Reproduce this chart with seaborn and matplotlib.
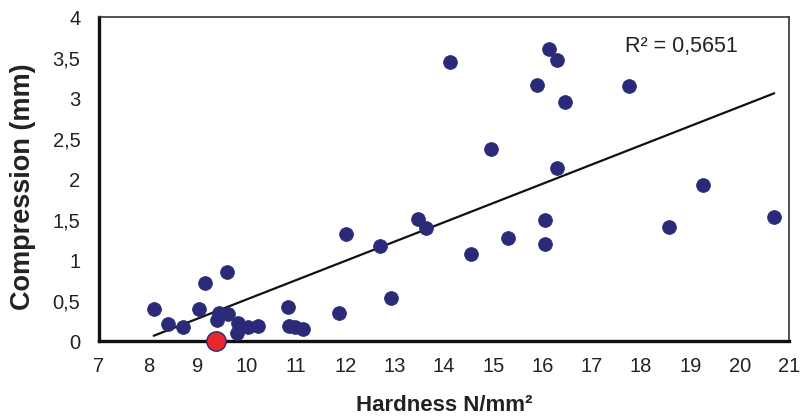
import matplotlib
matplotlib.use("Agg")
import matplotlib.pyplot as plt
import seaborn as sns
import pandas as pd
import numpy as np

hardness = [8.11, 8.41, 8.70, 9.03, 9.15, 9.60, 9.43, 9.62, 9.40, 9.82, 9.80,
            10.02, 10.22, 10.83, 10.86, 10.98, 11.13, 11.86, 12.01, 12.70,
            12.93, 13.48, 13.63, 14.12, 14.55, 14.95, 15.30, 15.88, 16.05,
            16.05, 16.14, 16.30, 16.30, 16.45, 17.76, 18.56, 19.26, 20.70]
compression = [0.395, 0.21, 0.17, 0.395, 0.71, 0.85, 0.34, 0.33, 0.26, 0.22, 0.095,
               0.17, 0.18, 0.42, 0.18, 0.17, 0.145, 0.34, 1.32, 1.17,
               0.535, 1.51, 1.40, 3.45, 1.08, 2.37, 1.27, 3.16, 1.49,
               1.20, 3.61, 3.47, 2.13, 2.95, 3.15, 1.41, 1.93, 1.53]
highlight_x = [9.38]
highlight_y = [0.0]
r2_text = "R² = 0,5651"
x_ticks = list(range(7, 22))
y_ticks = [0, 0.5, 1, 1.5, 2, 2.5, 3, 3.5, 4]
y_tick_labels = ["0", "0,5", "1", "1,5", "2", "2,5", "3", "3,5", "4"]

df = pd.DataFrame({"Hardness": hardness, "Compression": compression})
hl = pd.DataFrame({"Hardness": highlight_x, "Compression": highlight_y})

sns.set_style("white")
plt.rcParams["font.family"] = ["Liberation Sans", "DejaVu Sans"]

fig = plt.figure(figsize=(8.01, 4.19), dpi=100)
ax = fig.add_axes([99/801, 1-341/419, 690/801, 324/419])

navy = "#2B2A78"
sns.regplot(data=df, x="Hardness", y="Compression", ax=ax, ci=None,
            scatter=False, line_kws=dict(color="#111111", lw=1.6))
sns.scatterplot(data=df, x="Hardness", y="Compression", ax=ax, color=navy,
                s=100, edgecolor=navy, linewidth=0.5, zorder=3)
sns.scatterplot(data=hl, x="Hardness", y="Compression", ax=ax, color="#E8282A",
                s=195, edgecolor=navy, linewidth=1.0, zorder=4, clip_on=False)

ax.set_xlim(7, 21)
ax.set_ylim(0, 4)
ax.set_xticks(x_ticks)
ax.set_xticklabels([str(v) for v in x_ticks])
ax.set_yticks(y_ticks)
ax.set_yticklabels(y_tick_labels)

ax.tick_params(axis="both", direction="out", length=4.5, width=1.5,
               labelsize=14.5, colors="#111111", labelcolor="#222222")
ax.tick_params(axis="x", pad=7)
ax.tick_params(axis="y", pad=9)

for side in ["left", "bottom"]:
    ax.spines[side].set_linewidth(2.4)
    ax.spines[side].set_color("#111111")
for side in ["top", "right"]:
    ax.spines[side].set_linewidth(1.2)
    ax.spines[side].set_color("#333333")
    ax.spines[side].set_visible(True)

ax.set_xlabel("Hardness N/mm²", fontsize=16, fontweight="bold", color="#222222", labelpad=14)
ax.set_ylabel("Compression (mm)", fontsize=19.5, fontweight="bold", color="#222222")
ax.yaxis.set_label_coords(-0.0913, 0.475)

ax.text(17.67, 3.64, r2_text, fontsize=15.5, color="#222222", va="center", ha="left")

fig.savefig("out.png", dpi=100)
